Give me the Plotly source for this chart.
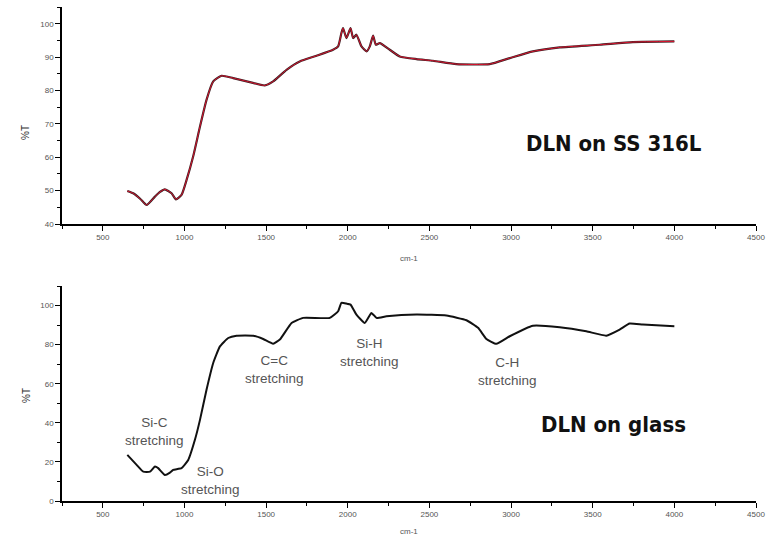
import plotly.graph_objects as go
from plotly.subplots import make_subplots

# Top spectrum: DLN on SS 316L
ss_wavenumber = [650, 686, 730, 768, 819, 850, 880, 921, 948, 982, 1013, 1053, 1095, 1135, 1176,
                 1227, 1298, 1400, 1492, 1543, 1625, 1706, 1809, 1910, 1941, 1961, 1971, 1992,
                 2017, 2033, 2053, 2084, 2115, 2135, 2155, 2172, 2196, 2257, 2318, 2421, 2522,
                 2665, 2869, 2992, 3134, 3298, 3543, 3746, 4000]
ss_transmittance = [49.9, 49.2, 47.5, 45.7, 48.2, 49.6, 50.4, 49.2, 47.4, 48.7, 53.2, 60.2, 69.2,
                    77.2, 82.7, 84.4, 83.7, 82.5, 81.5, 82.7, 86.2, 88.7, 90.4, 92.2, 93.2, 97.2,
                    98.7, 95.7, 98.7, 95.7, 96.7, 93.2, 91.7, 93.2, 96.4, 93.7, 94.2, 92.2, 90.2,
                    89.4, 88.9, 87.9, 87.9, 89.7, 91.7, 92.9, 93.7, 94.5, 94.7]

# Bottom spectrum: DLN on glass
gl_wavenumber = [650, 707, 748, 789, 819, 839, 880, 911, 931, 982, 1023, 1064, 1095, 1135, 1176,
                 1217, 1268, 1319, 1421, 1482, 1543, 1584, 1656, 1727, 1890, 1941, 1961, 1992,
                 2017, 2053, 2104, 2145, 2176, 2237, 2421, 2604, 2727, 2798, 2849, 2910, 2992,
                 3134, 3298, 3461, 3583, 3665, 3726, 3807, 4000]
gl_transmittance = [23.6, 18.5, 15.0, 15.0, 17.6, 16.8, 13.3, 14.5, 15.9, 16.8, 21.0, 31.3, 41.5,
                    56.9, 70.6, 79.1, 83.4, 84.6, 84.6, 82.9, 80.5, 82.6, 91.1, 93.7, 93.7, 97.1,
                    101.4, 101.0, 100.5, 95.4, 91.1, 96.2, 93.7, 94.5, 95.4, 94.9, 92.5, 88.6,
                    82.9, 80.4, 84.3, 89.7, 88.9, 86.8, 84.6, 87.7, 90.8, 90.3, 89.4]

x_ticks = [500, 1000, 1500, 2000, 2500, 3000, 3500, 4000, 4500]
top_y_ticks = [40, 50, 60, 70, 80, 90, 100]
bottom_y_ticks = [0, 20, 40, 60, 80, 100]

band_labels = ["Si-C<br>stretching", "Si-O<br>stretching", "C=C<br>stretching",
               "Si-H<br>stretching", "C-H<br>stretching"]
band_x = [819, 1160, 1553, 2135, 2980]
band_y = [35.5, 10.5, 67.2, 76.2, 66.2]

fig = make_subplots(rows=2, cols=1, vertical_spacing=0.1255)

fig.add_trace(go.Scatter(x=ss_wavenumber, y=ss_transmittance, mode="lines",
                         line=dict(color="#3a2024", width=2.2, shape="spline", smoothing=0.5),
                         showlegend=False), row=1, col=1)
fig.add_trace(go.Scatter(x=ss_wavenumber, y=ss_transmittance, mode="lines",
                         line=dict(color="#d8142e", width=1.0, shape="spline", smoothing=0.5),
                         showlegend=False), row=1, col=1)
fig.add_trace(go.Scatter(x=gl_wavenumber, y=gl_transmittance, mode="lines",
                         line=dict(color="#111111", width=2, shape="spline", smoothing=0.4),
                         showlegend=False), row=2, col=1)

tickfont = dict(family="Liberation Sans, Arial, sans-serif", size=8, color="#555555")
axis_common = dict(showline=True, linecolor="black", linewidth=1.5, ticks="outside",
                   ticklen=5, tickwidth=1.2, tickcolor="black", showgrid=False, zeroline=False,
                   tickfont=tickfont, mirror=False, automargin=False)

fig.update_xaxes(range=[250, 4500], tickvals=x_ticks,
                 minor=dict(dtick=250, tick0=250, ticks="outside", ticklen=3, tickcolor="black", tickwidth=1),
                 **axis_common)
fig.update_yaxes(range=[40, 105], tickvals=top_y_ticks,
                 minor=dict(dtick=5, tick0=40, ticks="outside", ticklen=3, tickcolor="black", tickwidth=1),
                 row=1, col=1, **axis_common)
fig.update_yaxes(range=[0, 110], tickvals=bottom_y_ticks,
                 minor=dict(dtick=10, tick0=0, ticks="outside", ticklen=3, tickcolor="black", tickwidth=1),
                 row=2, col=1, **axis_common)

for txt, bx, by in zip(band_labels, band_x, band_y):
    fig.add_annotation(x=bx, y=by, xref="x2", yref="y2", text=txt, showarrow=False,
                       font=dict(family="Liberation Sans, Arial, sans-serif", size=13.5, color="#555555"))

big_font = dict(family="DejaVu Sans Condensed, Liberation Sans Narrow, sans-serif",
                size=22, color="#111111")
fig.add_annotation(x=3628, y=64, xref="x", yref="y", text="<b>DLN on SS 316L</b>",
                   showarrow=False, font=big_font)
fig.add_annotation(x=3628, y=39, xref="x2", yref="y2", text="<b>DLN on glass</b>",
                   showarrow=False, font=big_font)

W, H = 769, 544
L, R, T, B = 62, 13, 7, 43
pw, ph = W - L - R, H - T - B
fig.update_layout(width=W, height=H, margin=dict(l=L, r=R, t=T, b=B),
                  paper_bgcolor="white", plot_bgcolor="white")
fig.update_layout(yaxis=dict(domain=[0.5607, 1.0]), yaxis2=dict(domain=[0.0, 0.4352]))

title_font = dict(family="Liberation Sans, Arial", size=8, color="#555555")
ytitle_font = dict(family="Liberation Sans, Arial", size=10, color="#333333")
# axis titles placed by pixel position, converted to paper coordinates
for px, py in [(409, 258), (409, 538)]:
    fig.add_annotation(x=(px - L) / pw, y=(H - py - B) / ph, xref="paper", yref="paper",
                       text="cm-1", showarrow=False, font=title_font)
for px, py in [(18, 123), (19, 405)]:
    fig.add_annotation(x=(px - L) / pw, y=(H - py - B) / ph, xref="paper", yref="paper",
                       text="%T", textangle=-90, showarrow=False, font=ytitle_font)

fig.write_html("out.html", config={"displayModeBar": False},
               post_script="document.body.style.margin='0';")
